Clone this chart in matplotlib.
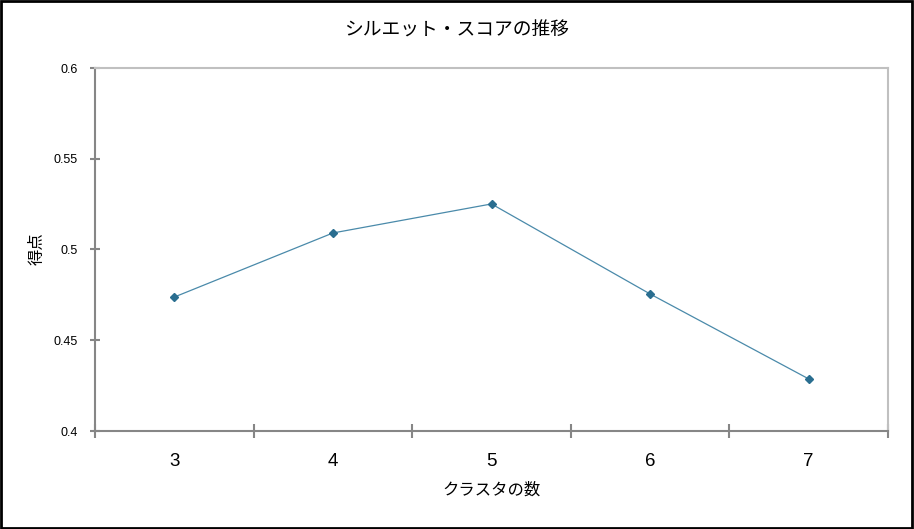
"""Line chart: silhouette score by number of clusters."""
import matplotlib
matplotlib.use("Agg")
import matplotlib.pyplot as plt
import numpy as np

# data
clusters = ["3", "4", "5", "6", "7"]
scores = [0.4738, 0.5091, 0.5251, 0.4755, 0.4287]

title = "シルエット・スコアの推移"
xlabel = "クラスタの数"
ylabel = "得点"

plt.rcParams["font.family"] = ["Liberation Sans", "Noto Sans CJK JP", "DejaVu Sans"]
jp = ["Noto Sans CJK JP", "DejaVu Sans"]

fig = plt.figure(figsize=(9.14, 5.29), dpi=100)
ax = fig.add_axes([95 / 914, 1 - 431 / 529, 793 / 914, 363 / 529])

x = np.arange(len(clusters))
ax.plot(x, scores, color="#4a8aaa", linewidth=0.9,
        marker="D", markersize=4.2, markerfacecolor="#2a6e90",
        markeredgecolor="#2a6e90")

ax.set_xlim(-0.5, len(clusters) - 0.5)
ax.set_ylim(0.4, 0.6)
ax.set_yticks([0.4, 0.45, 0.5, 0.55, 0.6])
ax.set_yticklabels(["0.4", "0.45", "0.5", "0.55", "0.6"], fontsize=9)

# category ticks sit on the boundaries, labels in the middle
ax.set_xticks(np.arange(len(clusters) + 1) - 0.5)
ax.set_xticklabels([])
ax.set_xticks(x, minor=True)
ax.set_xticklabels(clusters, minor=True, fontsize=13.5)
ax.tick_params(axis="x", which="minor", length=0, pad=16)
ax.tick_params(axis="x", which="major", direction="inout", length=9.5,
               width=1.5, color="#868686")
ax.tick_params(axis="y", direction="inout", length=6.5, width=1.5,
               color="#868686", pad=9)

for side in ["left", "bottom"]:
    ax.spines[side].set_color("#868686")
    ax.spines[side].set_linewidth(1.5)
for side in ["top", "right"]:
    ax.spines[side].set_color("#c0c0c0")
    ax.spines[side].set_linewidth(1.5)

fig.text(0.5, 1 - 30 / 529, title, ha="center", va="center",
         fontsize=13.5, family=jp)
fig.text(492 / 914, 1 - 490 / 529, xlabel, ha="center", va="center",
         fontsize=11.8, family=jp)
fig.text(37 / 914, 1 - 249 / 529, ylabel, ha="center", va="center",
         rotation=90, fontsize=11.8, family=jp)

# black frame round the whole chart
fig.patches.append(plt.Rectangle((0.001, 0.002), 0.997, 0.996,
                                 transform=fig.transFigure, fill=False,
                                 edgecolor="black", linewidth=2))

fig.savefig("out.png", dpi=100)
